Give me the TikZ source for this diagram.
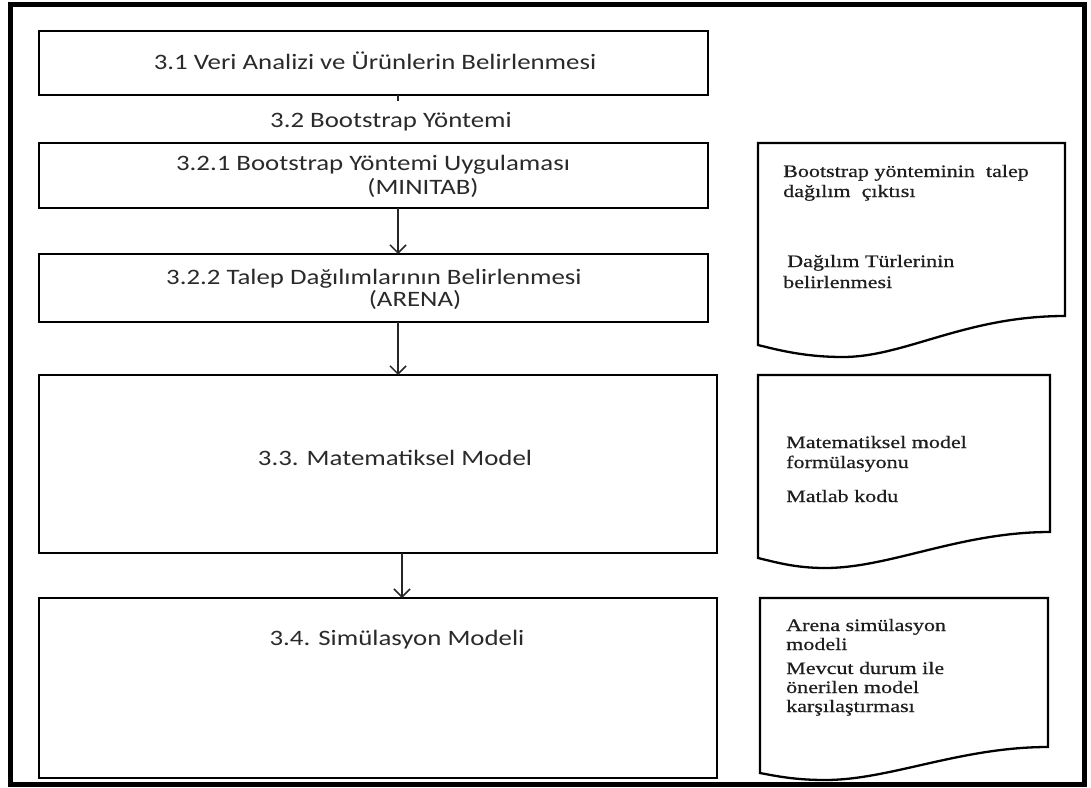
\documentclass[tikz,border=0pt]{standalone}
\usepackage{fontspec}
\setmainfont{Carlito}
\newfontfamily\boxfont[FakeStretch=1.22]{Carlito}
\newfontfamily\docfont[FakeStretch=1.26,FakeBold=0.6]{Liberation Serif}
\usetikzlibrary{arrows.meta}
\definecolor{txt}{HTML}{2A2A2A}
\definecolor{doctxt}{HTML}{1E1E1E}
\begin{document}
\begin{tikzpicture}[x=1pt,y=-1pt,
  box/.style={draw=black,line width=2.4pt,inner sep=0pt,outer sep=0pt,anchor=north west},
  boxtext/.style={font=\boxfont\fontsize{22}{26}\selectfont,text=txt,inner sep=0pt,anchor=base},
  doc/.style={draw=black,line width=2.3pt,line join=miter},
  doctext/.style={font=\docfont\fontsize{17.5}{20}\selectfont,text=doctxt,inner sep=0pt,anchor=base west},
  link/.style={draw=black!85,line width=1.5pt},
  arr/.style={link,-{Straight Barb[length=8pt,width=16pt]}}]
\useasboundingbox (0,0) rectangle (1091,787);
% outer frame
\draw[line width=5pt] (10.5,4.5) rectangle (1084.5,784.5);

% process boxes
\node[box,minimum width=669pt,minimum height=64pt]  (b1)  at (39,31)  {};
\node[box,minimum width=669pt,minimum height=65pt]  (b21) at (39,143) {};
\node[box,minimum width=669pt,minimum height=68pt]  (b22) at (39,254) {};
\node[box,minimum width=678pt,minimum height=178pt] (b33) at (39,375) {};
\node[box,minimum width=678pt,minimum height=180pt] (b34) at (39,598) {};

% box texts
\node[boxtext] (t1)   at (375,69)  {3.1 Veri Analizi ve Ürünlerin Belirlenmesi};
\node[boxtext] (t2)   at (391,127) {3.2 Bootstrap Yöntemi};
\node[boxtext] (t21a) at (373,170) {3.2.1 Bootstrap Yöntemi Uygulaması};
\node[boxtext] (t21b) at (423,194) {(MINITAB)};
\node[boxtext] (t22a) at (374,284) {3.2.2 Talep Dağılımlarının Belirlenmesi};
\node[boxtext] (t22b) at (415,306) {(ARENA)};
\node[boxtext] (t33) at (395,465) {3.3. Matematiksel Model};
\node[boxtext] (t34) at (397,645) {3.4. Simülasyon Modeli};

% connectors
\coordinate (ax1) at (398,0);
\coordinate (ax2) at (402,0);
\coordinate (tickend) at (398,101);
\draw[link] (b1.south -| ax1) -- (tickend);
\draw[arr] (b21.south -| ax1) -- (b22.north -| ax1);
\draw[arr] (b22.south -| ax1) -- (b33.north -| ax1);
\draw[arr] (b33.south -| ax2) -- (b34.north -| ax2);

% document shapes
\draw[doc] (758,143) -- (1065,143) -- (1065,316)
  .. controls (965,316) and (905,357) .. (843,357)
  .. controls (805,357) and (778,350) .. (758,345) -- cycle;
\draw[doc] (758,375) -- (1050,375) -- (1050,532)
  .. controls (960,532) and (890,568) .. (825,568)
  .. controls (795,568) and (775,562) .. (758,558) -- cycle;
\draw[doc] (760,598) -- (1048,598) -- (1048,747)
  .. controls (960,747) and (890,780) .. (825,780)
  .. controls (795,780) and (776,776) .. (760,773) -- cycle;

% document texts
\node[doctext] (d1a) at (783,177) {Bootstrap yönteminin\ \ talep};
\node[doctext] (d1b) at (783,197) {dağılım\ \ çıktısı};
\node[doctext] (d1c) at (787,267) {Dağılım\ Türlerinin};
\node[doctext] (d1d) at (783,288) {belirlenmesi};
\node[doctext] (d2a) at (786,448) {Matematiksel\ model};
\node[doctext] (d2b) at (786,468) {formülasyonu};
\node[doctext] (d2c) at (786,502) {Matlab kodu};
\node[doctext] (d3a) at (786,631) {Arena simülasyon};
\node[doctext] (d3b) at (786,650) {modeli};
\node[doctext] (d3c) at (786,674) {Mevcut durum ile};
\node[doctext] (d3d) at (786,693) {önerilen model};
\node[doctext] (d3e) at (786,712) {karşılaştırması};
\end{tikzpicture}
\end{document}
